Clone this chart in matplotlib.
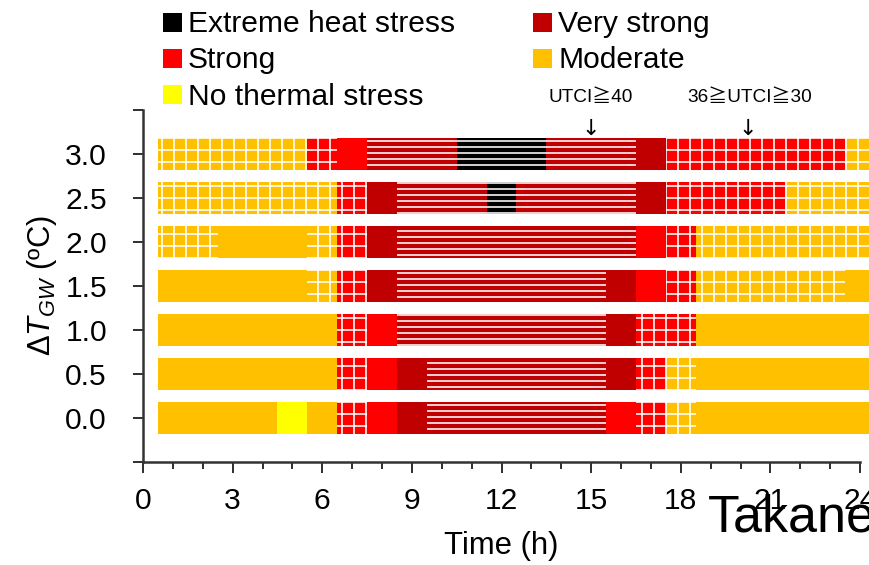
import numpy as np
import matplotlib
matplotlib.use('Agg')
import matplotlib.pyplot as plt
from matplotlib.lines import Line2D

plt.rcParams['font.family'] = ['Liberation Sans', 'Noto Sans CJK JP', 'DejaVu Sans']
plt.rcParams['mathtext.fontset'] = 'custom'
plt.rcParams['mathtext.rm'] = 'Liberation Sans'
plt.rcParams['mathtext.it'] = 'Liberation Sans:italic'
plt.rcParams['hatch.color'] = 'white'
plt.rcParams['hatch.linewidth'] = 1.6

# hourly stress class for hours 1..24
# K extreme, D very strong, R strong, O moderate, Y no thermal stress
hours = np.arange(1, 25)
delta_t = [0.0, 0.5, 1.0, 1.5, 2.0, 2.5, 3.0]
stress = [
  'OOOOYORRDDDDDDDRROOOOOOO',  # 0.0
  'OOOOOORRDDDDDDDDROOOOOOO',  # 0.5
  'OOOOOORRDDDDDDDDRROOOOOO',  # 1.0
  'OOOOOORDDDDDDDDDRROOOOOO',  # 1.5
  'OOOOOORDDDDDDDDDRROOOOOO',  # 2.0
  'OOOOOORDDDDKDDDDDRRRROOO',  # 2.5
  'OOOOORRDDDKKKDDDDRRRRRRO',  # 3.0
]
# pattern: g = grid, h = horizontal lines, . = plain
marks = [
  '......g..hhhhhh.gg......',
  '......g..hhhhhh.gg......',
  '......g.hhhhhhh.gg......',
  '.....gg.hhhhhhh..gggggg.',
  'gg...gg.hhhhhhhh.ggggggg',
  'ggggggg.hhhhhhhh.ggggggg',
  'gggggg.hhhhhhhhh.ggggggg',
]

class_colors = {'K': '#000000', 'D': '#C00000', 'R': '#FF0000',
                'O': '#FFC000', 'Y': '#FFFF00'}
class_names = {'K': 'Extreme heat stress', 'D': 'Very strong', 'R': 'Strong',
               'O': 'Moderate', 'Y': 'No thermal stress'}
hatch_styles = {'g': '+', 'h': '--', '.': None}

fig = plt.figure(figsize=(869 / 72, 565 / 72), dpi=72)
ax = fig.add_axes([143 / 869, 1 - 462 / 565, (860 - 143) / 869, (462 - 110) / 565])

for y, cls, hat in zip(delta_t, stress, marks):
  start = 0
  for i in range(1, 25):
    if i == 24 or cls[i] != cls[start] or hat[i] != hat[start]:
      ax.barh(y, hours[i - 1] - hours[start] + 1, left=hours[start] - 0.5,
              height=0.37, color=class_colors[cls[start]], edgecolor='white',
              linewidth=0, hatch=hatch_styles[hat[start]], clip_on=False)
      start = i

ax.set_xlim(0, 24)
ax.set_ylim(-0.5, 3.5)
ax.set_xticks(range(0, 25, 3))
ax.set_xticks(range(25), minor=True)
yt = np.arange(-0.5, 3.51, 0.5)
ax.set_yticks(yt)
ax.set_yticklabels(['' if (v < 0 or v > 3.01) else '%.1f' % v for v in yt])

for side in ['top', 'right']:
  ax.spines[side].set_visible(False)
for side in ['left', 'bottom']:
  ax.spines[side].set_linewidth(2.5)
  ax.spines[side].set_color('#333333')

ax.tick_params(axis='x', which='major', length=11, width=2, pad=14,
               labelsize=30, color='#333333')
ax.tick_params(axis='x', which='minor', length=7, width=2, color='#333333')
ax.tick_params(axis='y', length=10, width=2, pad=26, labelsize=30,
               color='#333333')

ax.set_xlabel('Time (h)', fontsize=31, labelpad=16)
ax.set_ylabel(r'$\mathit{\Delta T}_{\mathit{GW}}$ (ºC)', fontsize=31, labelpad=6)

ax.text(15, 3.64, 'UTCI≧40', ha='center', va='center', fontsize=19, clip_on=False)
ax.text(15, 3.29, '↓', ha='center', va='center', fontsize=22, clip_on=False,
        family='DejaVu Sans')
ax.text(20.3, 3.64, '36≧UTCI≧30', ha='center', va='center', fontsize=19, clip_on=False)
ax.text(20.25, 3.29, '↓', ha='center', va='center', fontsize=22, clip_on=False,
        family='DejaVu Sans')

order = ['K', 'R', 'Y', 'D', 'O']
handles = [Line2D([], [], marker='s', linestyle='none', markersize=19,
                  markerfacecolor=class_colors[k], markeredgewidth=0,
                  label=class_names[k]) for k in order]
fig.legend(handles=handles, loc='upper left', bbox_to_anchor=(161 / 869, 555 / 565),
           ncol=2, frameon=False, fontsize=30, handlelength=0.7, handletextpad=0.2,
           columnspacing=2.53, labelspacing=0.28, borderpad=0, borderaxespad=0)

fig.text(708 / 869, 1 - 532 / 565, 'Takane', fontsize=52, va='baseline', ha='left')

fig.savefig('out.png', dpi=72)
